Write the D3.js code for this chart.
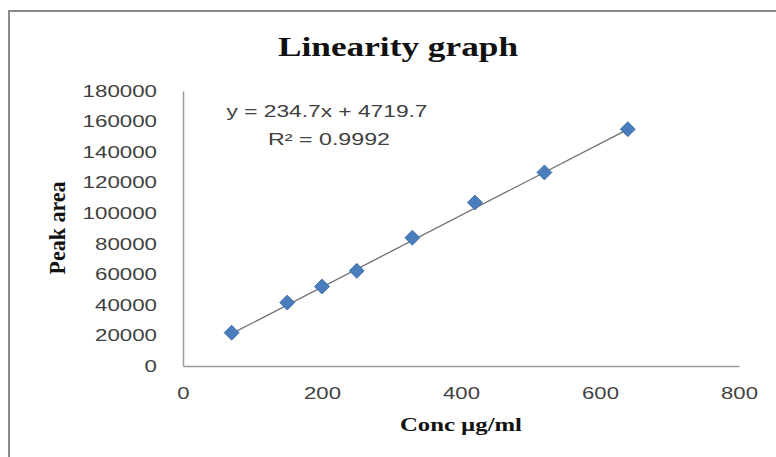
<!DOCTYPE html>
<html>
<head>
<meta charset="utf-8">
<script src="https://cdn.jsdelivr.net/npm/d3@7"></script>
<style>
  body { margin: 0; background: #fff; }
  svg { display: block; }
</style>
</head>
<body>
<div id="chart"></div>
<script>
// calibration points
var conc = [70, 150, 200, 250, 330, 420, 520, 640];
var peakArea = [21800, 41500, 52000, 62300, 84000, 107000, 126700, 155000];

// trendline shown on the chart
var slope = 234.7;
var intercept = 4719.7;
var eqLabels = ["y = 234.7x + 4719.7", "R\u00b2 = 0.9992"];

var xTicks = [0, 200, 400, 600, 800];
var yTicks = [0, 20000, 40000, 60000, 80000, 100000, 120000, 140000, 160000, 180000];

(function() {
    var width = 776;
    var height = 457;

    var svg = d3.select('#chart')
        .append('svg')
        .attr('width', width)
        .attr('height', height);

    svg.append('rect')
        .attr('width', width)
        .attr('height', height)
        .attr('fill', '#fff');

    // chart frame (only top and left edges show in the crop)
    svg.append('path')
        .attr('d', 'M9,' + height + 'V11H' + width)
        .attr('fill', 'none')
        .attr('stroke', '#8a8a8a')
        .attr('stroke-width', 2);

    var x = d3.scaleLinear()
        .domain([0, 800])
        .range([183, 739]);

    var y = d3.scaleLinear()
        .domain([0, 180000])
        .range([366, 91]);

    // stretch a text to a measured width, the picture is squashed wide
    function fit(sel, perChar) {
        sel.attr('textLength', function() { return this.textContent.length * perChar; })
           .attr('lengthAdjust', 'spacingAndGlyphs');
    }

    // y axis
    var gy = svg.append('g')
        .attr('transform', 'translate(' + x(0) + ',0)')
        .call(d3.axisLeft(y).tickValues(yTicks).tickFormat(d3.format('d')).tickSize(0).tickPadding(26));
    gy.select('.domain').attr('stroke', '#9a9a9a').attr('stroke-width', 1.5);
    gy.selectAll('text')
        .attr('font-family', 'Liberation Sans, Arial, sans-serif')
        .attr('font-size', 16.5)
        .attr('fill', '#404040')
        .call(fit, 12.4);

    // x axis
    var gx = svg.append('g')
        .attr('transform', 'translate(0,' + y(0) + ')')
        .call(d3.axisBottom(x).tickValues(xTicks).tickFormat(d3.format('d')).tickSize(0).tickPadding(21));
    gx.select('.domain').attr('stroke', '#9a9a9a').attr('stroke-width', 1.5);
    gx.selectAll('text')
        .attr('font-family', 'Liberation Sans, Arial, sans-serif')
        .attr('font-size', 16.5)
        .attr('fill', '#404040')
        .call(fit, 12.3);

    // trendline over the data range
    var x0 = d3.min(conc), x1 = d3.max(conc);
    svg.append('line')
        .attr('x1', x(x0))
        .attr('y1', y(slope * x0 + intercept))
        .attr('x2', x(x1))
        .attr('y2', y(slope * x1 + intercept))
        .attr('stroke', '#707070')
        .attr('stroke-width', 1.3);

    // diamond markers
    var pts = conc.map((c, i) => ({c: c, a: peakArea[i]}));
    svg.append('g')
        .selectAll('path')
        .data(pts)
        .join('path')
            .attr('d', d3.symbol(d3.symbolSquare, 112))
            .attr('transform', d => 'translate(' + x(d.c) + ',' + y(d.a) + ') rotate(45)')
            .attr('fill', '#4a7dbb')
            .attr('stroke', '#3b6aa6')
            .attr('stroke-width', 0.8);

    // equation box
    var sans = 'Liberation Sans, Arial, sans-serif';
    svg.append('text')
        .attr('x', 327).attr('y', 117)
        .attr('text-anchor', 'middle')
        .attr('font-family', sans).attr('font-size', 16.5).attr('fill', '#404040')
        .attr('textLength', 201).attr('lengthAdjust', 'spacingAndGlyphs')
        .text(eqLabels[0]);
    svg.append('text')
        .attr('x', 329).attr('y', 145)
        .attr('text-anchor', 'middle')
        .attr('font-family', sans).attr('font-size', 16.5).attr('fill', '#404040')
        .attr('textLength', 122).attr('lengthAdjust', 'spacingAndGlyphs')
        .text(eqLabels[1]);

    // titles
    var serif = 'Liberation Serif, Times New Roman, serif';
    svg.append('text')
        .attr('x', 398).attr('y', 56)
        .attr('text-anchor', 'middle')
        .attr('font-family', serif).attr('font-weight', 'bold').attr('font-size', 28)
        .attr('fill', '#111')
        .attr('textLength', 240).attr('lengthAdjust', 'spacingAndGlyphs')
        .text('Linearity graph');

    svg.append('text')
        .attr('x', 461).attr('y', 431)
        .attr('text-anchor', 'middle')
        .attr('font-family', serif).attr('font-weight', 'bold').attr('font-size', 19)
        .attr('fill', '#111')
        .attr('textLength', 122).attr('lengthAdjust', 'spacingAndGlyphs')
        .text('Conc \u00b5g/ml');

    svg.append('text')
        .attr('transform', 'translate(65,228) scale(1.25,1) rotate(-90)')
        .attr('text-anchor', 'middle')
        .attr('font-family', serif).attr('font-weight', 'bold').attr('font-size', 19)
        .attr('fill', '#111')
        .attr('textLength', 93).attr('lengthAdjust', 'spacingAndGlyphs')
        .text('Peak area');
})();
</script>
</body>
</html>
